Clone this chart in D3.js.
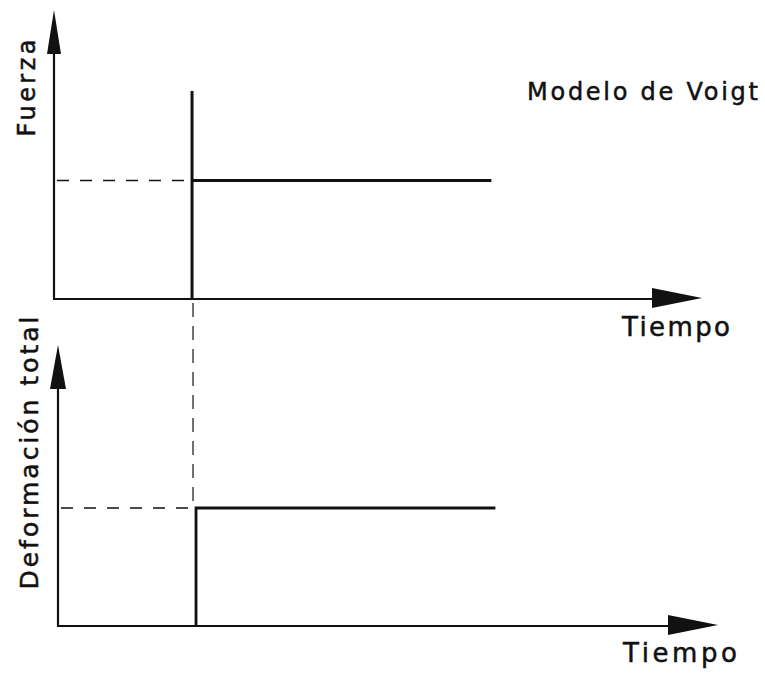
<!DOCTYPE html>
<html>
<head>
<meta charset="utf-8">
<script src="https://cdn.jsdelivr.net/npm/d3@7"></script>
<style>
  body { margin: 0; background: #fff; }
  text { font-family: "DejaVu Sans", sans-serif; fill: #111; stroke: #111; stroke-width: 0.5px; }
</style>
</head>
<body>
<div class="voigt"></div>
<script>
(function(){

  // valores (tiempo y magnitud en unidades arbitrarias 0-10)
  var fuerzaImpulso   = [[2.13, 0], [2.13, 7.2]]
  var fuerzaConstante = [[2.13, 4.1], [6.75, 4.1]]
  var deformacion     = [[2.13, 0], [2.13, 4.2], [6.75, 4.2]]
  var nivelFuerza = 4.1
  var nivelDeform = 4.2
  var tCarga = 2.13

  var width = 765, height = 674

  var svg = d3.select(".voigt").append("svg")
        .attr("width", width)
        .attr("height", height)

  // two stacked panels, each with its own origin
  var top_ = { x0: 54, y0: 299, yTip: 10, xTip: 702, head: 7 }
  var bot_ = { x0: 58, y0: 626, yTip: 345, xTip: 718, head: 8 }

  function scales(p) {
    p.x = d3.scaleLinear().domain([0, 10]).range([p.x0, p.x0 + 648])
    p.y = d3.scaleLinear().domain([0, 10]).range([p.y0, p.yTip])
  }
  scales(top_)
  scales(bot_)

  var line = function(p) {
    return d3.line().x(function(d){ return p.x(d[0]) }).y(function(d){ return p.y(d[1]) })
  }

  function axes(p) {
    var g = svg.append("g")
    g.append("line")
      .attr("x1", p.x0).attr("y1", p.y0)
      .attr("x2", p.x0).attr("y2", p.yTip + 20)
      .style("stroke", "#111").style("stroke-width", 2.2)
    g.append("line")
      .attr("x1", p.x0 - 1).attr("y1", p.y0)
      .attr("x2", p.xTip - 20).attr("y2", p.y0)
      .style("stroke", "#111").style("stroke-width", 2.2)
    // arrow heads
    g.append("path")
      .attr("d", "M" + p.x0 + "," + p.yTip + "L" + (p.x0 - p.head) + "," + (p.yTip + 44) +
                 "L" + (p.x0 + p.head) + "," + (p.yTip + 44) + "Z")
      .style("fill", "#111")
    g.append("path")
      .attr("d", "M" + p.xTip + "," + (p.y0 - 1) + "L" + (p.xTip - 50) + "," + (p.y0 - 11) +
                 "L" + (p.xTip - 50) + "," + (p.y0 + 9) + "Z")
      .style("fill", "#111")
    return g
  }
  axes(top_)
  axes(bot_)

  // dashed guides
  var dash = "12,11"
  svg.append("line")
    .attr("x1", top_.x0 + 3).attr("y1", top_.y(nivelFuerza))
    .attr("x2", top_.x(tCarga)).attr("y2", top_.y(nivelFuerza))
    .style("stroke", "#111").style("stroke-width", 1.4).style("stroke-dasharray", dash)
  svg.append("line")
    .attr("x1", bot_.x0 + 3).attr("y1", bot_.y(nivelDeform))
    .attr("x2", bot_.x(tCarga)).attr("y2", bot_.y(nivelDeform))
    .style("stroke", "#111").style("stroke-width", 1.4).style("stroke-dasharray", dash)
  svg.append("line")
    .attr("x1", top_.x(tCarga) + 1).attr("y1", top_.y(0) + 4)
    .attr("x2", top_.x(tCarga) + 1).attr("y2", bot_.y(nivelDeform))
    .style("stroke", "#111").style("stroke-width", 1.2).style("stroke-dasharray", "14,9")

  // curves
  svg.append("path").datum(fuerzaImpulso)
    .attr("d", line(top_))
    .style("fill", "none").style("stroke", "#111").style("stroke-width", 3)
  svg.append("path").datum(fuerzaConstante)
    .attr("d", line(top_))
    .style("fill", "none").style("stroke", "#111").style("stroke-width", 2.8)
  svg.append("path").datum(deformacion)
    .attr("d", line(bot_))
    .style("fill", "none").style("stroke", "#111").style("stroke-width", 2.8)

  // labels
  function label(txt, x, y, size, len, rot) {
    var t = svg.append("text")
      .text(txt)
      .attr("x", x).attr("y", y)
      .attr("textLength", len)
      .attr("lengthAdjust", "spacing")
      .style("font-size", size + "px")
    if (rot) {
      t.attr("x", 0).attr("y", 0)
       .attr("text-anchor", "middle")
       .attr("transform", "translate(" + x + "," + y + ") rotate(-90)")
    }
    return t
  }
  label("Fuerza", 35, 88, 24, 97, true)
  label("Deformación total", 38, 453, 25, 273, true)
  label("Tiempo", 622, 336, 26, 108)
  label("Tiempo", 623, 662, 26, 114)
  label("Modelo de Voigt", 527, 100, 24, 231)

})()
</script>
</body>
</html>
